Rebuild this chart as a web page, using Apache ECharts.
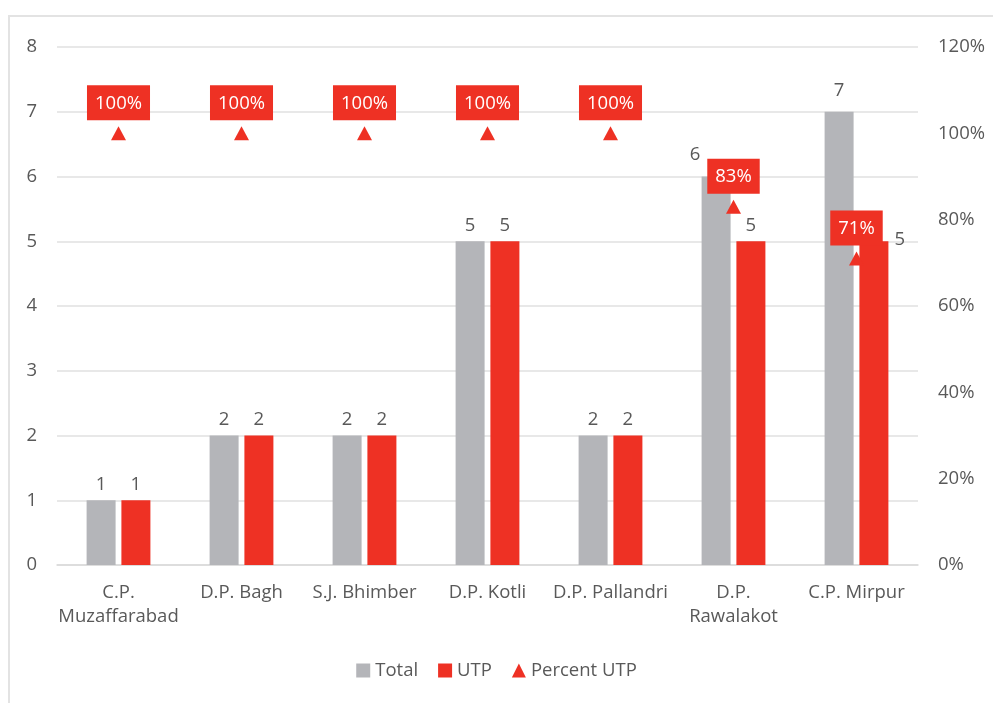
<!DOCTYPE html>
<html>
<head>
<meta charset="utf-8">
<script src="https://cdn.jsdelivr.net/npm/echarts@6/dist/echarts.min.js"></script>
<style>
    html, body { margin: 0; padding: 0; background: #fff; overflow: hidden; }
    #frame { position: absolute; left: 8px; top: 15px; width: 1100px; height: 800px; border: 2px solid #E3E3E3; box-sizing: border-box; }
    #main { position: absolute; left: 0; top: 0; width: 993px; height: 703px; }
</style>
</head>
<body>
<div id="frame"></div>
<div id="main"></div>
<script>
var categories = ['C.P.\nMuzaffarabad', 'D.P. Bagh', 'S.J. Bhimber', 'D.P. Kotli', 'D.P. Pallandri', 'D.P.\nRawalakot', 'C.P. Mirpur'];
var totalData = [1, 2, 2, 5, 2, 6, 7];
var utpData = [1, 2, 2, 5, 2, 5, 5];
var percentData = [100, 100, 100, 100, 100, 83, 71];
var leftTicks = [0, 8, 1];
var rightTicks = [0, 120, 20];

var grayColor = '#B4B5B9';
var redColor = '#EE3124';
var textColor = '#595959';
var fontName = '"Open Sans", Lato, sans-serif';
var fontSize = 18.5;

function firstShow() {
    var chart = echarts.init(document.getElementById('main'));

    // labels moved aside so they do not sit under the percent boxes
    var totalSeriesData = totalData.map(function (v, i) {
        if (i == 5) {
            return { value: v, label: { offset: [-21, -6] } };
        }
        if (i == 6) {
            return { value: v, label: { offset: [0, -6] } };
        }
        return v;
    });
    var utpSeriesData = utpData.map(function (v, i) {
        if (i == utpData.length - 1) {
            return { value: v, label: { offset: [26, 14] } };
        }
        return v;
    });

    var option = {
        textStyle: { fontFamily: fontName },
        animation: false,
        grid: {
            left: 57,
            right: 75,
            top: 47,
            bottom: 138
        },
        legend: {
            bottom: 18,
            left: 'center',
            itemWidth: 14,
            itemHeight: 14,
            itemGap: 20,
            textStyle: { fontSize: fontSize, color: textColor, fontFamily: fontName },
            data: [
                { name: 'Total', icon: 'rect' },
                { name: 'UTP', icon: 'rect' },
                { name: 'Percent UTP', icon: 'triangle' }
            ]
        },
        xAxis: {
            type: 'category',
            data: categories,
            axisTick: { show: false },
            axisLine: { lineStyle: { color: '#D9D9D9', width: 1.5 } },
            axisLabel: {
                interval: 0,
                margin: 16,
                fontSize: fontSize,
                lineHeight: 24,
                color: textColor,
                fontFamily: fontName
            }
        },
        yAxis: [{
            type: 'value',
            min: leftTicks[0],
            max: leftTicks[1],
            interval: leftTicks[2],
            axisLine: { show: false },
            axisTick: { show: false },
            splitLine: { lineStyle: { color: '#E0E0E0', width: 1.5 } },
            axisLabel: { fontSize: fontSize, color: textColor, margin: 20, fontFamily: fontName }
        }, {
            type: 'value',
            min: rightTicks[0],
            max: rightTicks[1],
            interval: rightTicks[2],
            axisLine: { show: false },
            axisTick: { show: false },
            splitLine: { show: false },
            axisLabel: { fontSize: fontSize, color: textColor, margin: 20, formatter: '{value}%', fontFamily: fontName }
        }],
        series: [{
            name: 'Total',
            type: 'bar',
            barWidth: 29,
            barGap: '20%',
            itemStyle: { color: grayColor },
            label: { show: true, position: 'top', distance: 6, fontSize: fontSize, color: textColor, fontFamily: fontName },
            data: totalSeriesData
        }, {
            name: 'UTP',
            type: 'bar',
            barWidth: 29,
            itemStyle: { color: redColor },
            label: { show: true, position: 'top', distance: 6, fontSize: fontSize, color: textColor, fontFamily: fontName },
            data: utpSeriesData
        }, {
            name: 'Percent UTP',
            type: 'scatter',
            yAxisIndex: 1,
            symbol: 'triangle',
            symbolSize: [15, 14],
            itemStyle: { color: redColor, opacity: 1 },
            z: 5,
            label: {
                show: true,
                position: 'top',
                distance: 6,
                formatter: '{c}%',
                fontSize: fontSize,
                lineHeight: 22,
                color: '#fff',
                backgroundColor: redColor,
                padding: [7, 8, 6, 8],
                fontFamily: fontName
            },
            data: percentData
        }]
    };

    chart.setOption(option);
    window.addEventListener('resize', function () {
        chart.resize();
    });
}

firstShow();
</script>
</body>
</html>
